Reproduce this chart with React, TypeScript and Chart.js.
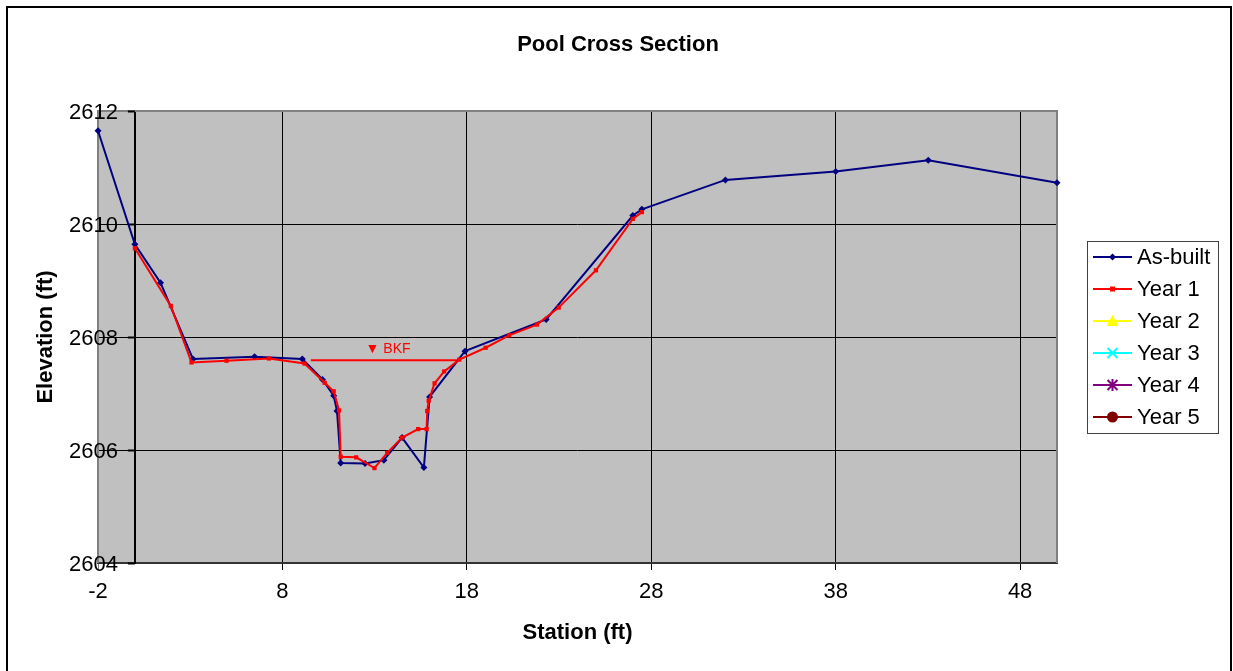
import React, { useEffect, useRef } from 'react';
import { Chart, registerables } from 'chart.js';

Chart.register(...registerables);

// Surveyed cross-section: station (ft) vs elevation (ft)
const asBuiltStation = [-2, 0, 1.39, 3.15, 6.49, 9.08, 10.17, 10.78, 10.96, 11.16, 12.48, 13.5, 14.49, 15.67, 15.98, 17.9, 22.3, 27.0, 27.49, 32.02, 38.0, 43.02, 50.0];
const asBuiltElevation = [2611.65, 2609.64, 2608.96, 2607.61, 2607.65, 2607.61, 2607.25, 2606.96, 2606.69, 2605.77, 2605.76, 2605.82, 2606.22, 2605.69, 2606.94, 2607.75, 2608.31, 2610.15, 2610.26, 2610.78, 2610.93, 2611.13, 2610.73];

const year1Station = [0, 1.95, 3.07, 4.97, 7.27, 9.2, 10.29, 10.78, 11.07, 11.16, 12.0, 12.99, 13.68, 14.49, 15.36, 15.82, 15.85, 15.93, 16.25, 16.77, 17.59, 19.02, 20.29, 21.8, 22.98, 25.0, 27.0, 27.49];
const year1Elevation = [2609.57, 2608.55, 2607.55, 2607.58, 2607.62, 2607.53, 2607.19, 2607.04, 2606.7, 2605.88, 2605.87, 2605.68, 2605.95, 2606.22, 2606.37, 2606.37, 2606.69, 2606.87, 2607.18, 2607.39, 2607.6, 2607.81, 2608.03, 2608.22, 2608.52, 2609.18, 2610.09, 2610.21];

// Bankfull stage line
const bkfStation = [9.54, 17.59];
const bkfElevation = [2607.59, 2607.59];
const bkfLabel = '\u25BC BKF';

const xTicks = [-2, 8, 18, 28, 38, 48];
const yTicks = [2604, 2606, 2608, 2610, 2612];

const legendNames = ['As-built', 'Year 1', 'Year 2', 'Year 3', 'Year 4', 'Year 5'];
const legendColors = ['#000080', '#FF0000', '#FFFF00', '#00FFFF', '#800080', '#800000'];
const legendMarkers = ['diamond', 'square', 'triangle', 'cross', 'star', 'circle'];

const titleText = 'Pool Cross Section';
const xTitle = 'Station (ft)';
const yTitle = 'Elevation (ft)';

const FONT = '"Liberation Sans", Arial, sans-serif';

const toPoints = (xs: number[], ys: number[]) => xs.map((x, i) => ({ x, y: ys[i] }));

function drawMarker(ctx: CanvasRenderingContext2D, kind: string, cx: number, cy: number, color: string) {
  ctx.save();
  ctx.fillStyle = color;
  ctx.strokeStyle = color;
  ctx.lineWidth = 2;
  ctx.beginPath();
  if (kind === 'diamond') {
    ctx.moveTo(cx, cy - 3.5);
    ctx.lineTo(cx + 3.5, cy);
    ctx.lineTo(cx, cy + 3.5);
    ctx.lineTo(cx - 3.5, cy);
    ctx.closePath();
    ctx.fill();
  } else if (kind === 'square') {
    ctx.rect(cx - 2.5, cy - 2.5, 5, 5);
    ctx.fill();
  } else if (kind === 'triangle') {
    ctx.moveTo(cx, cy - 6);
    ctx.lineTo(cx + 6, cy + 5);
    ctx.lineTo(cx - 6, cy + 5);
    ctx.closePath();
    ctx.fill();
  } else if (kind === 'cross') {
    ctx.moveTo(cx - 5, cy - 5);
    ctx.lineTo(cx + 5, cy + 5);
    ctx.moveTo(cx + 5, cy - 5);
    ctx.lineTo(cx - 5, cy + 5);
    ctx.stroke();
  } else if (kind === 'star') {
    ctx.moveTo(cx - 5, cy - 5);
    ctx.lineTo(cx + 5, cy + 5);
    ctx.moveTo(cx + 5, cy - 5);
    ctx.lineTo(cx - 5, cy + 5);
    ctx.moveTo(cx, cy - 6);
    ctx.lineTo(cx, cy + 6);
    ctx.stroke();
  } else if (kind === 'circle') {
    ctx.arc(cx, cy, 5.5, 0, Math.PI * 2);
    ctx.fill();
  }
  ctx.restore();
}

const decorPlugin = {
  id: 'decor',
  beforeDraw(chart: any) {
    const { ctx, chartArea: a } = chart;
    ctx.save();
    ctx.fillStyle = '#FFFFFF';
    ctx.fillRect(0, 0, chart.width, chart.height);
    ctx.fillStyle = '#C0C0C0';
    ctx.fillRect(a.left, a.top, a.right - a.left, a.bottom - a.top);
    ctx.restore();
  },
  beforeDatasetsDraw(chart: any) {
    const { ctx, chartArea: a, scales } = chart;
    ctx.save();
    ctx.strokeStyle = '#808080';
    ctx.lineWidth = 2;
    ctx.beginPath();
    ctx.moveTo(a.left, a.bottom);
    ctx.lineTo(a.left, a.top);
    ctx.lineTo(a.right, a.top);
    ctx.lineTo(a.right, a.bottom);
    ctx.stroke();

    // value axis crosses at station 0: outward tick marks and labels
    const ax = scales.x.getPixelForValue(0);
    const ys = scales.y;
    ctx.strokeStyle = '#000000';
    ctx.lineWidth = 2;
    ctx.fillStyle = '#000000';
    ctx.font = `22px ${FONT}`;
    ctx.textAlign = 'right';
    ctx.textBaseline = 'middle';
    ys.ticks.forEach((t: any, i: number) => {
      const py = Math.round(ys.getPixelForValue(t.value)) + 0.5;
      ctx.beginPath();
      ctx.moveTo(ax - 7, py);
      ctx.lineTo(ax, py);
      ctx.stroke();
      ctx.fillText(ys.getLabelForValue ? String(t.label ?? t.value) : String(t.value), ax - 17, py + 1);
    });
    ctx.restore();
  },
  afterDraw(chart: any) {
    const { ctx, chartArea: a, scales } = chart;
    ctx.save();
    ctx.fillStyle = '#000000';
    ctx.textAlign = 'center';
    ctx.textBaseline = 'middle';

    ctx.font = `bold 22px ${FONT}`;
    ctx.fillText(titleText, 618, 45);
    ctx.fillText(xTitle, (a.left + a.right) / 2, 633);

    ctx.save();
    ctx.translate(46, (a.top + a.bottom) / 2);
    ctx.rotate(-Math.PI / 2);
    ctx.fillText(yTitle, 0, 0);
    ctx.restore();

    // bankfull label above the stage line
    const bx = scales.x.getPixelForValue((bkfStation[0] + bkfStation[1]) / 2);
    const by = scales.y.getPixelForValue(bkfElevation[0]);
    ctx.fillStyle = '#FF0000';
    ctx.font = `14px ${FONT}`;
    ctx.fillText(bkfLabel, bx + 3, by - 11);

    // legend
    const lx = 1087, ly = 241, lw = 131, lh = 192;
    ctx.fillStyle = '#FFFFFF';
    ctx.fillRect(lx, ly, lw, lh);
    ctx.strokeStyle = '#404040';
    ctx.lineWidth = 1;
    ctx.strokeRect(lx + 0.5, ly + 0.5, lw, lh);
    ctx.font = `22px ${FONT}`;
    ctx.textAlign = 'left';
    legendNames.forEach((name, i) => {
      const cy = 257 + i * 32;
      ctx.strokeStyle = legendColors[i];
      ctx.lineWidth = 2;
      ctx.beginPath();
      ctx.moveTo(1093, cy);
      ctx.lineTo(1132, cy);
      ctx.stroke();
      drawMarker(ctx, legendMarkers[i], 1112.5, cy, legendColors[i]);
      ctx.fillStyle = '#000000';
      ctx.fillText(name, 1137, cy + 1);
    });

    // outer frame
    ctx.strokeStyle = '#000000';
    ctx.lineWidth = 2;
    ctx.strokeRect(7, 7, 1224, 700);
    ctx.restore();
  },
};

export default function App() {
  const canvasRef = useRef<HTMLCanvasElement | null>(null);

  useEffect(() => {
    if (!canvasRef.current) return;
    const chart = new Chart(canvasRef.current, {
      type: 'scatter',
      data: {
        datasets: [
          {
            label: 'BKF',
            data: toPoints(bkfStation, bkfElevation),
            showLine: true,
            borderColor: '#FF0000',
            borderWidth: 2,
            pointRadius: 0,
            order: 2,
          },
          {
            label: legendNames[0],
            data: toPoints(asBuiltStation, asBuiltElevation),
            showLine: true,
            borderColor: '#000080',
            backgroundColor: '#000080',
            borderWidth: 2,
            pointStyle: 'rectRot',
            pointRadius: 3.5,
            pointBorderWidth: 0,
            pointBackgroundColor: '#000080',
            clip: false,
            order: 1,
          },
          {
            label: legendNames[1],
            data: toPoints(year1Station, year1Elevation),
            showLine: true,
            borderColor: '#FF0000',
            backgroundColor: '#FF0000',
            borderWidth: 2,
            pointStyle: 'rect',
            pointRadius: 3,
            pointBorderWidth: 0,
            pointBackgroundColor: '#FF0000',
            clip: false,
            order: 0,
          },
        ],
      },
      options: {
        animation: false,
        responsive: false,
        devicePixelRatio: 1,
        layout: { padding: { left: 98, top: 111, right: 176, bottom: 0 } },
        plugins: {
          legend: { display: false },
          title: { display: false },
          tooltip: { enabled: false },
        },
        scales: {
          x: {
            type: 'linear',
            position: 'bottom',
            min: -2,
            max: 50,
            afterBuildTicks: (s: any) => {
              s.ticks = xTicks.map((v) => ({ value: v }));
            },
            afterFit: (s: any) => {
              s.height = 108;
            },
            grid: {
              color: (c: any) => (c.tick && c.tick.value === -2 ? '#808080' : '#000000'),
              lineWidth: 1,
              tickLength: 7,
            },
            border: { color: '#333333', width: 2 },
            ticks: {
              color: '#000000',
              font: { family: FONT, size: 22 },
              padding: 9,
              maxRotation: 0,
              autoSkip: false,
              callback: (v: any) => String(v),
            },
          },
          y: {
            type: 'linear',
            position: { x: 0 } as any,
            min: 2604,
            max: 2612,
            afterBuildTicks: (s: any) => {
              s.ticks = yTicks.map((v) => ({ value: v }));
            },
            grid: {
              color: (c: any) => (c.tick && c.tick.value === 2612 ? '#808080' : '#000000'),
              lineWidth: 1,
              drawTicks: false,
            },
            border: { color: '#000000', width: 2 },
            ticks: {
              display: false,
              callback: (v: any) => String(v),
            },
          },
        },
      },
      plugins: [decorPlugin],
    } as any);
    return () => chart.destroy();
  }, []);

  return (
    <div style={{ position: 'absolute', left: 0, top: 0 }}>
      <canvas ref={canvasRef} width={1233} height={671} style={{ display: 'block' }} />
    </div>
  );
}
